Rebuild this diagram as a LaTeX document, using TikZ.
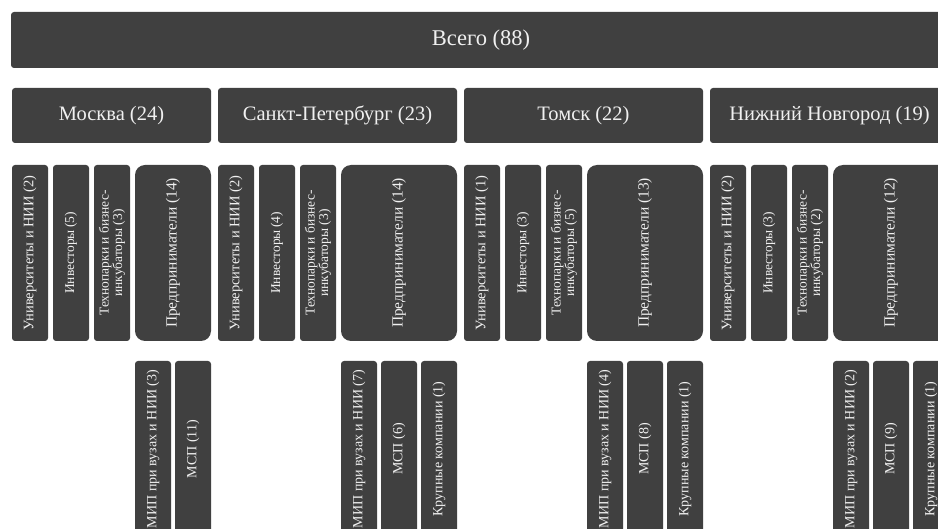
\documentclass[tikz,border=0pt]{standalone}
\usepackage{fontspec}
\setmainfont{Liberation Serif}
\definecolor{CellGrey}{HTML}{404040}
\definecolor{CellText}{HTML}{F0F0F0}

\begin{document}
\begin{tikzpicture}[x=1pt,y=-1pt,
  cell/.style={fill=CellGrey,text=CellText,rounded corners=3pt,inner sep=0pt,align=center},
  vcell/.style={cell,rotate=90,minimum width=176pt,minimum height=36pt,font=\fontsize{14.5}{16}\selectfont},
  techcell/.style={vcell,font=\fontsize{13.5}{12.5}\selectfont},
  bigcell/.style={vcell,rounded corners=10pt,font=\fontsize{15.5}{17}\selectfont}]
  \useasboundingbox (0,0) rectangle (938,529);
  \clip (0,0) rectangle (938,529);
  % total
  \node[cell,minimum width=940pt,minimum height=56pt,font=\fontsize{22.5}{26}\selectfont] (total) at (481,40) {Всего (88)};
  % cities and their groups
  \foreach \x/\n/\c/\u/\i/\t/\p/\w in {
      12/msk/{Москва (24)}/2/5/3/14/199,
      218/spb/{Санкт-Петербург (23)}/2/4/3/14/239,
      464/tsk/{Томск (22)}/1/3/5/13/239,
      710/nnov/{Нижний Новгород (19)}/2/3/2/12/239} {
    \node[cell,minimum width=\w pt,minimum height=55pt,font=\fontsize{20.5}{24}\selectfont] (\n) at ({\x+\w/2},115.5) {\c};
    \node[vcell] (\n-univ) at ({\x+18},253) {Университеты и НИИ (\u)};
    \node[vcell,font=\fontsize{13.5}{16}\selectfont] (\n-inv) at ({\x+59},253) {Инвесторы\,(\i)};
    \node[techcell] (\n-tech) at ({\x+100},253) {Технопарки и бизнес-\\инкубаторы (\t)};
    \node[bigcell,minimum height={\w pt-123pt}] (\n-ent) at ({\x+123+(\w-123)/2},253) {Предприниматели (\p)};
  }
  % entrepreneurs split
  \foreach \xc/\n/\txt in {
      153/msk-mip/{МИП при вузах и НИИ (3)}, 193/msk-msp/{МСП (11)},
      359/spb-mip/{МИП при вузах и НИИ (7)}, 399/spb-msp/{МСП (6)}, 439/spb-big/{Крупные компании (1)},
      605/tsk-mip/{МИП при вузах и НИИ (4)}, 645/tsk-msp/{МСП (8)}, 685/tsk-big/{Крупные компании (1)},
      851/nnov-mip/{МИП при вузах и НИИ (2)}, 891/nnov-msp/{МСП (9)}, 931/nnov-big/{Крупные компании (1)}} {
    \node[vcell,font=\fontsize{14}{16}\selectfont] (\n) at (\xc,449) {\txt};
  }
\end{tikzpicture}
\end{document}
